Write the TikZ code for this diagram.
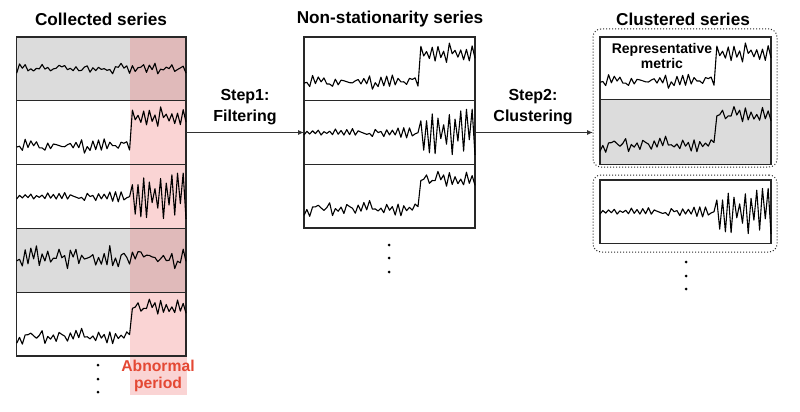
\documentclass[tikz,border=0pt]{standalone}
\usepackage{fontspec}
\setmainfont{Liberation Sans}
\usetikzlibrary{arrows.meta}
\pgfdeclarelayer{bg}
\pgfdeclarelayer{tint}
\pgfsetlayers{bg,tint,main}
\definecolor{boxline}{RGB}{40,40,40}
\definecolor{grayfill}{RGB}{220,220,220}
\definecolor{pinkbase}{RGB}{235,95,95}
\definecolor{redtext}{RGB}{228,72,52}
\definecolor{arrcol}{RGB}{50,50,50}

\tikzset{
  rowbox/.style={draw=boxline, line width=1.3pt, inner sep=0pt, outer sep=0pt, anchor=north west, minimum width=169.3pt},
  ser/.style={black, line width=1.1pt, line join=round},
  cluster/.style={draw=boxline, dotted, line width=1pt, rounded corners=8pt, inner sep=0pt, outer sep=0pt, anchor=north west},
  titlelbl/.style={font=\fontsize{17.2}{20}\selectfont\bfseries, text=black},
  steplbl/.style={font=\fontsize{16}{21}\selectfont\bfseries, align=center, text=black},
  replbl/.style={font=\fontsize{14}{15}\selectfont\bfseries, align=center, text=black},
  abnlbl/.style={font=\fontsize{15.7}{17}\selectfont\bfseries, align=center, text=redtext},
  arr/.style={draw=arrcol, line width=1pt, -{Latex[length=6pt,width=5pt]}},
  vdot/.style={fill=black}
}

% stationary, small noise
\newcommand\serA[5]{\pgfmathsetseed{#5}\draw[ser] plot[domain=0:60,samples=61,variable=\i] ({#1+#3*\i/60},{#2+#4*(0.49+0.045*cos(180*\i)*(0.3+0.7*rnd)+0.05*rand)});}
% level shift
\newcommand\serB[5]{\pgfmathsetseed{#5}\draw[ser] plot[domain=0:60,samples=61,variable=\i] ({#1+#3*\i/60},{#2+#4*(ifthenelse(\i<41,0.70+0.065*cos(180*\i)*(0.3+0.7*rnd)+0.07*rand,0.25+0.10*cos(180*\i)*(0.3+0.7*rnd)+0.06*rand))});}
% variance increase
\newcommand\serC[5]{\pgfmathsetseed{#5}\draw[ser] plot[domain=0:60,samples=61,variable=\i] ({#1+#3*\i/60},{#2+#4*(0.5+ifthenelse(\i<41,0.045*cos(180*\i)*(0.3+0.7*rnd)+0.045*rand,cos(180*\i)*(0.08+0.3*rnd)))});}
% stationary, larger noise
\newcommand\serD[5]{\pgfmathsetseed{#5}\draw[ser] plot[domain=0:60,samples=61,variable=\i] ({#1+#3*\i/60},{#2+#4*(0.44+0.09*cos(180*\i)*(0.3+0.7*rnd)+0.12*rand)});}

\begin{document}
\begin{tikzpicture}[x=1pt,y=-1pt]
\useasboundingbox (0,0) rectangle (800,412);

% ---------- titles ----------
\node[titlelbl] (t1) at (101,19) {Collected series};
\node[titlelbl] (t2) at (390,19) {Non-stationarity series};
\node[titlelbl] (t3) at (683,19) {Clustered series};

% ---------- left column ----------
\node[rowbox, minimum height=63.8pt] (L1) at (16.7,37) {};
\node[rowbox, minimum height=63.8pt] (L2) at (16.7,100.8) {};
\node[rowbox, minimum height=63.8pt] (L3) at (16.7,164.6) {};
\node[rowbox, minimum height=63.8pt] (L4) at (16.7,228.4) {};
\node[rowbox, minimum height=63.8pt] (L5) at (16.7,292.2) {};
\node[inner sep=0pt, outer sep=0pt, anchor=north west, minimum width=169.3pt, minimum height=319pt] (L) at (16.7,37) {};
\begin{pgfonlayer}{bg}
  \fill[grayfill] (L1.north west) rectangle (L1.south east);
  \fill[grayfill] (L4.north west) rectangle (L4.south east);
\end{pgfonlayer}
\begin{pgfonlayer}{tint}
  \fill[pinkbase, opacity=0.27] (130,37) rectangle (186.5,395);
\end{pgfonlayer}
\serA{16.7}{37}{169.3}{63.8}{3}
\serB{16.7}{100.8}{169.3}{63.8}{12}
\serC{16.7}{164.6}{169.3}{63.8}{7}
\serD{16.7}{228.4}{169.3}{63.8}{21}
\serB{16.7}{292.2}{169.3}{63.8}{33}

\node[abnlbl] (ab) at (158,376) {Abnormal\\period};
\fill[vdot] (98,365) circle (1.5);
\fill[vdot] (98,379) circle (1.5);
\fill[vdot] (98,392) circle (1.5);

% ---------- middle column ----------
\node[rowbox, minimum width=171pt, minimum height=63.7pt] (M1) at (304,37) {};
\node[rowbox, minimum width=171pt, minimum height=63.7pt] (M2) at (304,100.7) {};
\node[rowbox, minimum width=171pt, minimum height=63.7pt] (M3) at (304,164.4) {};
\node[inner sep=0pt, outer sep=0pt, anchor=north west, minimum width=171pt, minimum height=191pt] (M) at (304,37) {};
\serB{304}{37}{171}{63.7}{12}
\serC{304}{100.7}{171}{63.7}{7}
\serB{304}{164.4}{171}{63.7}{33}
\fill[vdot] (389,245) circle (1.5);
\fill[vdot] (389,258) circle (1.5);
\fill[vdot] (389,272) circle (1.5);

% ---------- right column ----------
\node[cluster, minimum width=184pt, minimum height=138pt] (R1) at (593,29) {};
\node[cluster, minimum width=184pt, minimum height=77pt] (R2) at (593,175) {};
\node[rowbox, minimum width=171pt, minimum height=62.5pt] (C1) at (600,37) {};
\node[rowbox, minimum width=171pt, minimum height=64.8pt] (C2) at (600,99.5) {};
\node[rowbox, minimum width=171pt, minimum height=63.3pt] (C3) at (600,180) {};
\begin{pgfonlayer}{bg}
  \fill[grayfill] (C2.north west) rectangle (C2.south east);
\end{pgfonlayer}
\serB{600}{37}{171}{62.5}{12}
\serB{600}{99.5}{171}{64.8}{33}
\serC{600}{180}{171}{63.3}{7}
\node[replbl] (rm) at (662,56) {Representative\\metric};
\fill[vdot] (686,262) circle (1.5);
\fill[vdot] (686,276) circle (1.5);
\fill[vdot] (686,289) circle (1.5);

% ---------- arrows ----------
\draw[arr] (L.east |- M.west) -- (M.west);
\draw[arr] (M.east) -- (R1.west |- M.east);
\node[steplbl] (s1) at (245,107.5) {Step1:\\Filtering};
\node[steplbl] (s2) at (533,107.5) {Step2:\\Clustering};
\end{tikzpicture}
\end{document}
